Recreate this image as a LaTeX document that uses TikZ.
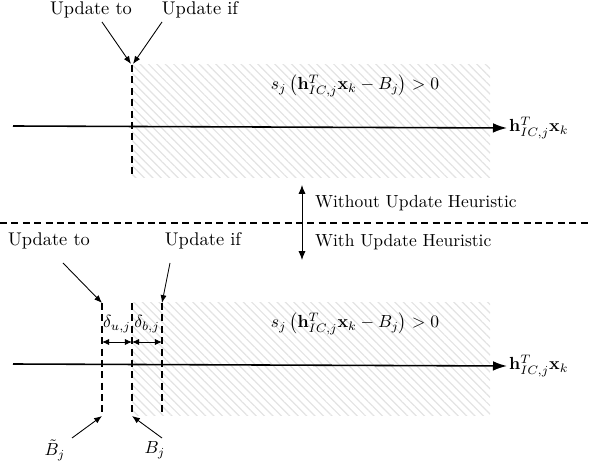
\documentclass[tikz,border=0pt]{standalone}
\usetikzlibrary{arrows.meta,patterns.meta}
\begin{document}
\begin{tikzpicture}[x=0.571pt,y=-0.571pt,
  hatch/.style={pattern={Lines[angle=-45,distance=3.4pt,line width=0.7pt]},pattern color=gray!22},
  axis/.style={line width=0.9pt,-{Latex[length=8pt,width=5.5pt]}},
  bound/.style={line width=0.8pt,dash pattern=on 4pt off 2.5pt},
  pointer/.style={line width=0.5pt,-{Latex[length=4.5pt,width=3.5pt]}},
  dimarrow/.style={line width=0.5pt,{Latex[length=4pt,width=3.5pt]}-{Latex[length=4pt,width=3.5pt]}},
  lbl/.style={inner sep=1pt},
  ulbl/.style={inner sep=1pt,font=\fontsize{10.5}{12}\selectfont}]
\useasboundingbox (0,0) rectangle (590,463);
% ---------- top ----------
\fill[hatch] (132,65) rectangle (490,178);
\coordinate (tl) at (13,126);
\node[lbl,anchor=west] (tax) at (507,128) {$\mathbf{h}_{IC,j}^T\mathbf{x}_k$};
\draw[axis] (tl) -- (tax.west);
\coordinate (tt) at (132,65);
\coordinate (tb) at (132,178);
\draw[bound] (tt) -- (tb);
\node[lbl] (tf) at (355,86) {$s_j\left(\mathbf{h}_{IC,j}^T\mathbf{x}_k-B_j\right)>0$};
\node[ulbl] (tto) at (91,10) {Update to};
\node[ulbl] (tif) at (200,10) {Update if};
\coordinate (ta1) at (102,22);
\coordinate (ta2) at (162,22);
\coordinate (tp1) at (131,64);
\coordinate (tp2) at (133,64);
\draw[pointer] (ta1) -- (tp1);
\draw[pointer] (ta2) -- (tp2);
% ---------- middle ----------
\coordinate (ml) at (0,223);
\coordinate (mr) at (590,223);
\draw[bound] (ml) -- (mr);
\coordinate (mu) at (302,185);
\coordinate (md) at (302,260);
\draw[line width=0.5pt,{Latex[length=5pt,width=4pt]}-{Latex[length=5pt,width=4pt]}] (mu) -- (md);
\node[lbl,anchor=west] (wo) at (313,203) {Without Update Heuristic};
\node[lbl,anchor=west] (wi) at (313,242) {With Update Heuristic};
% ---------- bottom ----------
\fill[hatch] (132,303) rectangle (490,416);
\coordinate (bl) at (13,364);
\node[lbl,anchor=west] (bax) at (507,366) {$\mathbf{h}_{IC,j}^T\mathbf{x}_k$};
\draw[axis] (bl) -- (bax.west);
\coordinate (u1) at (102,303);
\coordinate (u2) at (102,416);
\coordinate (c1) at (132,303);
\coordinate (c2) at (132,416);
\coordinate (b1) at (162,303);
\coordinate (b2) at (162,416);
\draw[bound] (u1) -- (u2);
\draw[bound] (c1) -- (c2);
\draw[bound] (b1) -- (b2);
\node[lbl] (bf) at (355,324) {$s_j\left(\mathbf{h}_{IC,j}^T\mathbf{x}_k-B_j\right)>0$};
\coordinate (d1) at (102,342);
\coordinate (d2) at (132,342);
\coordinate (d3) at (162,342);
\draw[dimarrow] (d1) -- (d2);
\draw[dimarrow] (d2) -- (d3);
\node[inner sep=0pt] (du) at (117,324) {$\delta_{u,j}$};
\node[inner sep=0pt] (db) at (147,324) {$\delta_{b,j}$};
\node[ulbl] (bto) at (49,241) {Update to};
\node[ulbl] (bif) at (203,241) {Update if};
\coordinate (ba1) at (63,263);
\coordinate (ba2) at (170,263);
\draw[pointer] (ba1) -- (u1);
\draw[pointer] (ba2) -- (b1);
\node[lbl] (bt) at (55,450) {$\tilde{B}_j$};
\node[lbl] (bj) at (155,450) {$B_j$};
\coordinate (bt1) at (72,438);
\coordinate (bj1) at (162,438);
\draw[pointer] (bt1) -- (u2);
\draw[pointer] (bj1) -- (c2);
\end{tikzpicture}
\end{document}
